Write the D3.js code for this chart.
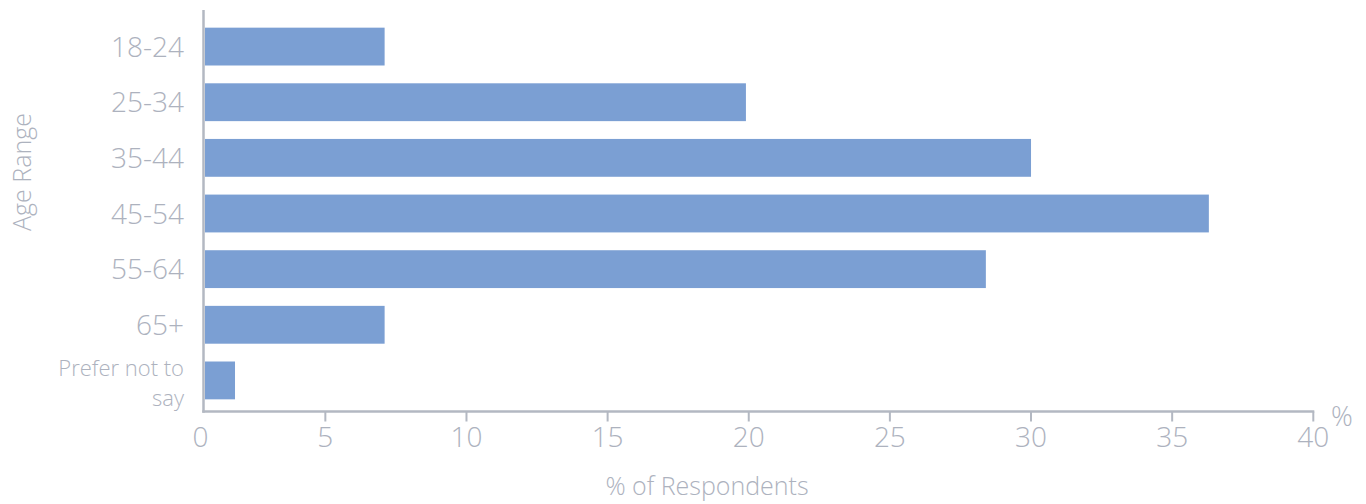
<!DOCTYPE html>
<html>
<head>
<meta charset="utf-8">
<script src="https://cdn.jsdelivr.net/npm/d3@7"></script>
<style>
  html, body { margin: 0; padding: 0; background: #ffffff; }
  svg text { font-family: "Open Sans", "Lato", sans-serif; font-weight: 300; fill: #adb2be; }
</style>
</head>
<body>
<svg id="chart" width="1366" height="504"></svg>
<script>
const categories = ["18-24", "25-34", "35-44", "45-54", "55-64", "65+", "Prefer not to say"];
const values = [7.1, 19.9, 30.0, 36.3, 28.4, 7.1, 1.8];
const xTicks = [0, 5, 10, 15, 20, 25, 30, 35, 40];
const xTitle = "% of Respondents";
const yTitle = "Age Range";
const unitLabel = "%";

const svg = d3.select("#chart");
const axisColor = "#b3b8c2";
const barColor = "#7b9fd3";

const plotLeft = 203.5, plotTop = 10, plotBottom = 411.5;

const x = d3.scaleLinear().domain([0, 40]).range([184.2, 1313.3]);
const y = d3.scaleBand().domain(categories).range([12.5, 414.5])
  .paddingInner(0.32).paddingOuter(0.2725);

// bars
svg.append("g").selectAll("rect").data(categories).join("rect")
  .attr("x", plotLeft + 1.5)
  .attr("y", d => y(d))
  .attr("width", (d, i) => x(values[i]) - (plotLeft + 1.5))
  .attr("height", y.bandwidth())
  .attr("fill", barColor);

// y axis line
svg.append("line")
  .attr("x1", plotLeft).attr("x2", plotLeft)
  .attr("y1", plotTop).attr("y2", plotBottom + 1.2)
  .attr("stroke", axisColor).attr("stroke-width", 2.5);

// x axis line
svg.append("line")
  .attr("x1", plotLeft - 1.2).attr("x2", x(40) + 1)
  .attr("y1", plotBottom).attr("y2", plotBottom)
  .attr("stroke", axisColor).attr("stroke-width", 2.5);

// x ticks (0 tick falls outside the plot and is not drawn)
svg.append("g").selectAll("line").data(xTicks.filter(t => t > 0)).join("line")
  .attr("x1", d => x(d)).attr("x2", d => x(d))
  .attr("y1", plotBottom).attr("y2", plotBottom + 10)
  .attr("stroke", axisColor).attr("stroke-width", 2);

// x tick labels
svg.append("g").selectAll("text").data(xTicks).join("text")
  .attr("x", d => Math.max(x(d), plotLeft - 3))
  .attr("y", 447)
  .attr("text-anchor", "middle")
  .style("font-size", "28px")
  .text(d => d);

// category labels
const catG = svg.append("g");
categories.forEach((c, i) => {
  const cy = y(c) + y.bandwidth() / 2;
  if (c === "Prefer not to say") {
    catG.append("text").attr("text-anchor", "end").style("font-size", "22px")
      .attr("x", 184).attr("y", cy - 4).text("Prefer not to");
    catG.append("text").attr("text-anchor", "end").style("font-size", "22px")
      .attr("x", 184).attr("y", cy + 26).text("say");
  } else {
    catG.append("text").attr("text-anchor", "end").style("font-size", "28px")
      .attr("x", 184).attr("y", cy + 10).text(c);
  }
});

// axis titles
svg.append("text")
  .attr("x", 707).attr("y", 495)
  .attr("text-anchor", "middle")
  .style("font-size", "25px")
  .text(xTitle);

svg.append("text")
  .attr("transform", "translate(31,172) rotate(-90)")
  .attr("text-anchor", "middle")
  .style("font-size", "25px")
  .text(yTitle);

svg.append("text")
  .attr("x", 1342).attr("y", 426)
  .attr("text-anchor", "middle")
  .style("font-size", "27px")
  .text(unitLabel);
</script>
</body>
</html>
